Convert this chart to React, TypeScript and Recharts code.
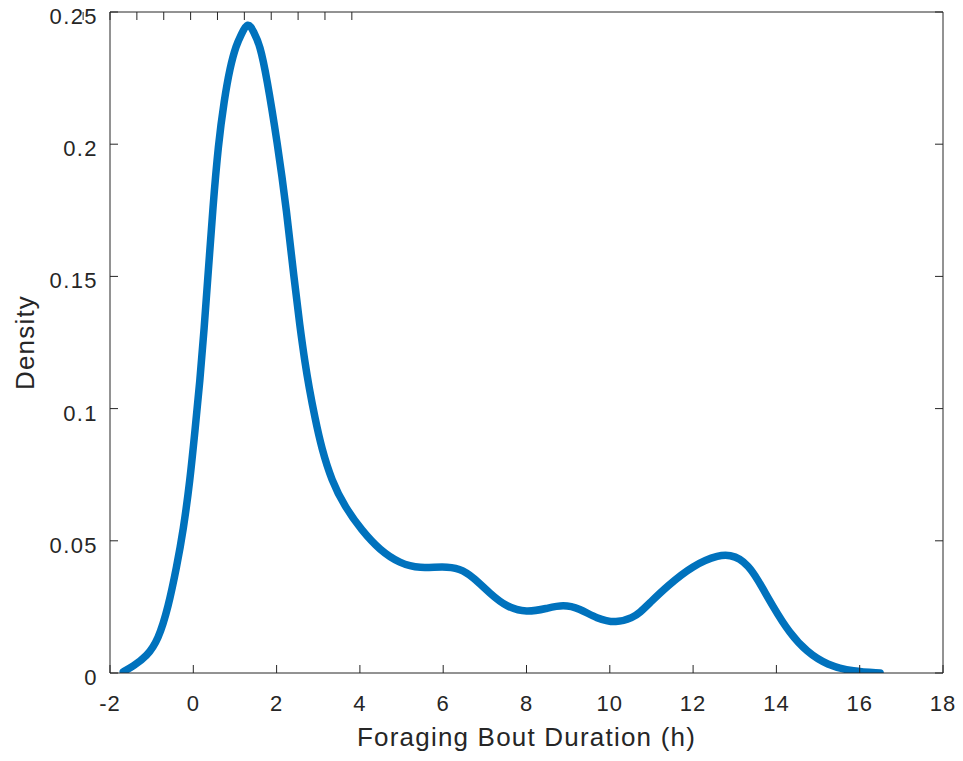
import React from "react";
import { LineChart, Line, XAxis, YAxis, Label } from "recharts";

const durationH = [
  -1.68, -1.45, -1.12, -0.84, -0.6, -0.4, -0.24, -0.08, 0.04, 0.16, 0.26, 0.36, 0.47, 0.6, 0.74,
  0.88, 1.03, 1.15, 1.31, 1.45, 1.6, 1.76, 2.02, 2.24, 2.42, 2.56, 2.68, 2.78, 2.92, 3.08, 3.32,
  3.64, 4.04, 4.48, 4.96, 5.44, 6.0, 6.4, 6.72, 7.12, 7.52, 8.0, 8.48, 8.88, 9.28, 9.68, 10.16,
  10.56, 10.72, 10.96, 11.36, 12.0, 12.64, 12.9, 13.12, 13.32, 13.52, 13.92, 14.32, 14.73, 15.21,
  15.85, 16.49,
];
const density = [
  0.0005, 0.0025, 0.0062, 0.0125, 0.025, 0.0401, 0.054, 0.0728, 0.0917, 0.1106, 0.13, 0.152,
  0.176, 0.2, 0.2165, 0.229, 0.2375, 0.2415, 0.2465, 0.2425, 0.2375, 0.2256, 0.2004, 0.175,
  0.149, 0.131, 0.1175, 0.108, 0.0965, 0.085, 0.0728, 0.0628, 0.054, 0.0464, 0.0414, 0.0395,
  0.0404, 0.0395, 0.0363, 0.0301, 0.025, 0.0228, 0.0244, 0.0259, 0.0244, 0.0206, 0.0188, 0.021,
  0.0228, 0.0265, 0.0326, 0.0408, 0.0448, 0.0445, 0.0433, 0.0405, 0.0363, 0.025, 0.015, 0.008,
  0.003, 0.0005, 0.0,
];
const xTicks = [-2, 0, 2, 4, 6, 8, 10, 12, 14, 16, 18];
const yTicks = [0, 0.05, 0.1, 0.15, 0.2, 0.25];
const xLabel = "Foraging Bout Duration (h)";
const yLabel = "Density";

const data = durationH.map((x, i) => ({ x, y: density[i] }));

const FONT = "'Liberation Sans', Arial, Helvetica, sans-serif";
const AX = "#262626";
const W = 955;
const H = 753;
const M = { top: 11, right: 11, bottom: 0, left: 0 };
const YW = 110;
const XH = 80;
const plotLeft = M.left + YW;
const plotRight = W - M.right - 1;
const plotTop = M.top + 1;
const plotBottom = H - XH;

const XTick = (props: any) => (
  <text
    x={props.x}
    y={props.y}
    textAnchor="middle"
    fontFamily={FONT}
    fontSize={22}
    letterSpacing={1}
    fill={AX}
  >
    {String(props.payload.value)}
  </text>
);

const YTick = (props: any) => (
  <text
    x={props.x}
    y={props.y + 12}
    textAnchor="end"
    fontFamily={FONT}
    fontSize={22}
    letterSpacing={1.4}
    fill={AX}
  >
    {String(props.payload.value)}
  </text>
);

const NoTick = () => <g />;

export default function App() {
  return (
    <div style={{ margin: "-8px 0 0 -8px", width: W, height: H }}>
      <LineChart width={W} height={H} data={data} margin={M}>
        <XAxis
          xAxisId="bottom"
          dataKey="x"
          type="number"
          domain={[-2, 18]}
          ticks={xTicks}
          allowDataOverflow
          height={XH}
          stroke={AX}
          tickSize={-8}
          tickMargin={46}
          tickLine={{ stroke: AX }}
          axisLine={{ stroke: AX }}
          tick={XTick}
          interval={0}
        >
          <Label
            content={() => (
              <text
                x={(plotLeft + plotRight) / 2}
                y={plotBottom + 73}
                textAnchor="middle"
                fontFamily={FONT}
                fontSize={26}
                letterSpacing={1.2}
                fill={AX}
              >
                {xLabel}
              </text>
            )}
          />
        </XAxis>
        <XAxis
          xAxisId="top"
          orientation="top"
          type="number"
          domain={[-2, 18]}
          ticks={xTicks}
          allowDataOverflow
          height={1}
          tickSize={-8}
          tickMargin={0}
          tickLine={{ stroke: AX }}
          axisLine={{ stroke: AX }}
          tick={NoTick}
          interval={0}
        />
        <YAxis
          yAxisId="left"
          type="number"
          domain={[0, 0.25]}
          ticks={yTicks}
          allowDataOverflow
          width={YW}
          tickSize={-8}
          tickMargin={20}
          tickLine={{ stroke: AX }}
          axisLine={{ stroke: AX }}
          tick={YTick}
          interval={0}
        >
          <Label
            content={() => (
              <text
                transform={`translate(33.5, ${(plotTop + plotBottom) / 2}) rotate(-90)`}
                textAnchor="middle"
                fontFamily={FONT}
                fontSize={26}
                letterSpacing={1.2}
                fill={AX}
              >
                {yLabel}
              </text>
            )}
          />
        </YAxis>
        <YAxis
          yAxisId="right"
          orientation="right"
          type="number"
          domain={[0, 0.25]}
          ticks={yTicks}
          allowDataOverflow
          width={1}
          tickSize={-8}
          tickMargin={0}
          tickLine={{ stroke: AX }}
          axisLine={{ stroke: AX }}
          tick={NoTick}
          interval={0}
        />
        <Line
          xAxisId="bottom"
          yAxisId="left"
          dataKey="y"
          type="basis"
          stroke="#0072BD"
          strokeWidth={7.5}
          strokeLinecap="round"
          strokeLinejoin="round"
          dot={false}
          activeDot={false}
          isAnimationActive={false}
        />
      </LineChart>
    </div>
  );
}
